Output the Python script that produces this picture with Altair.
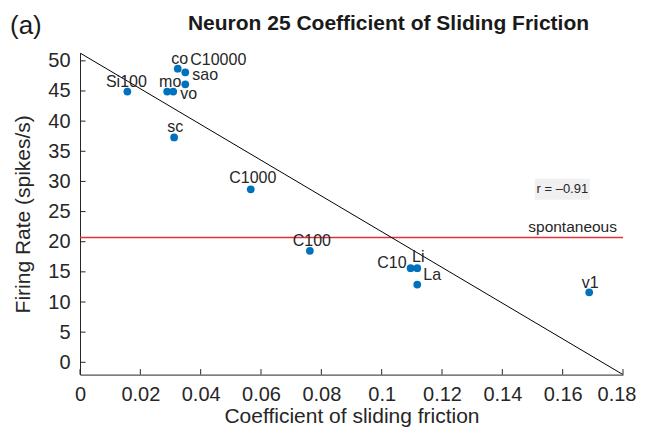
import altair as alt
import pandas as pd

# ---- data ----
names = ["co", "C10000", "sao", "mo", "vo", "Si100", "sc", "C1000", "C100", "C10", "Li", "La", "v1"]
friction = [0.0324, 0.0349, 0.0349, 0.0289, 0.0309, 0.0157, 0.0312, 0.0566, 0.0762, 0.1096, 0.1118, 0.1118, 0.1688]
rate = [48.7, 48.1, 46.1, 44.9, 44.9, 44.9, 37.3, 28.7, 18.5, 15.6, 15.6, 12.9, 11.6]

fit_x = [0.0, 0.18]
fit_y = [51.3, -2.04]

spontaneous_rate = 20.7
r_label = "r = \u20130.91"
r_pos = (0.1599, 28.7)
spont_pos_x = 0.178

x_ticks = [0, 0.02, 0.04, 0.06, 0.08, 0.1, 0.12, 0.14, 0.16, 0.18]
y_ticks = [0, 5, 10, 15, 20, 25, 30, 35, 40, 45, 50]

title_text = "Neuron 25 Coefficient of Sliding Friction"
panel_text = "(a)"

# label placement (style): alignment and pixel offsets relative to each dot
label_align = ["center", "left", "left", "center", "left", "center", "center", "center", "center", "right", "center", "left", "center"]
label_dx = [2, 5, 7, 3, 7, -1, 1, 2, 2, -4, 1, 6, 1]
label_dy = [-10, -12, -9.5, -10, 2, -10, -10, -11, -10, -5, -11, -10, -9]

FONT = "Liberation Sans"
INK = "#262626"
W, H = 543, 321.6

pts = pd.DataFrame({"name": names, "friction": friction, "rate": rate})

xs = alt.Scale(domain=[0, 0.18], nice=False, zero=False)
ys = alt.Scale(domain=[-2.04, 51.3], nice=False, zero=False)

x_axis = alt.Axis(title="Coefficient of sliding friction", values=x_ticks, format="~g",
                  labelFlush=False, labelOverlap=False, ticks=False, grid=False,
                  labelPadding=10, titlePadding=1,
                  labelAlign=alt.condition("datum.value >= 0.179", alt.value("right"), alt.value("center")),
                  labelOffset=alt.condition("datum.value >= 0.179", alt.value(13), alt.value(0)))
y_axis = alt.Axis(title="Firing Rate (spikes/s)", values=y_ticks, format="~g",
                  labelFlush=False, labelOverlap=False, ticks=False, grid=False,
                  labelPadding=10, titlePadding=14)


def X(field="friction"):
    return alt.X(f"{field}:Q", scale=xs, axis=x_axis)


def Y(field="rate"):
    return alt.Y(f"{field}:Q", scale=ys, axis=y_axis)


points = alt.Chart(pts).mark_circle(size=60, color="#0072BD", opacity=1).encode(x=X(), y=Y())

label_layers = []
for n, al, dx, dy in zip(names, label_align, label_dx, label_dy):
    label_layers.append(
        alt.Chart(pts).transform_filter(alt.datum.name == n).mark_text(
            align=al, baseline="middle", dx=dx, dy=dy, font=FONT, fontSize=16, color=INK
        ).encode(x=X(), y=Y(), text="name:N")
    )

fit = alt.Chart(pd.DataFrame({"friction": fit_x, "rate": fit_y})).mark_line(
    color="black", strokeWidth=1, clip=True
).encode(x=X(), y=Y())

spont = alt.Chart(pd.DataFrame({"rate": [spontaneous_rate]})).mark_rule(
    color="#e3303a", strokeWidth=1.3
).encode(y=Y())

spont_text = alt.Chart(pd.DataFrame({"friction": [spont_pos_x], "rate": [spontaneous_rate],
                                     "t": ["spontaneous"]})).mark_text(
    align="right", baseline="alphabetic", dy=-5, font=FONT, fontSize=15.5, color=INK
).encode(x=X(), y=Y(), text="t:N")

r_df = pd.DataFrame({"friction": [r_pos[0]], "rate": [r_pos[1]], "t": [r_label]})
r_box = alt.Chart(r_df).mark_point(
    shape="M-1,-0.382H1V0.382H-1Z", size=3025, filled=True, fill="#f0f0f0", opacity=1, strokeWidth=0
).encode(x=X(), y=Y())
r_text = alt.Chart(r_df).mark_text(
    align="center", baseline="middle", font=FONT, fontSize=13, color=INK
).encode(x=X(), y=Y(), text="t:N")

# inward tick marks
xt = alt.Chart(pd.DataFrame({"friction": x_ticks})).mark_rule(color=INK, strokeWidth=1).encode(
    x=X(), y=alt.value(H), y2=alt.value(H - 5.5))
yt = alt.Chart(pd.DataFrame({"rate": y_ticks})).mark_rule(color=INK, strokeWidth=1).encode(
    y=Y(), x=alt.value(0), x2=alt.value(5.5))

panel_tag = alt.Chart(pd.DataFrame({"t": [panel_text]})).mark_text(
    align="left", baseline="middle", font=FONT, fontSize=26, color="#1a1a1a"
).encode(x=alt.value(-70), y=alt.value(-27), text="t:N")

title_mark = alt.Chart(pd.DataFrame({"t": [title_text]})).mark_text(
    align="center", baseline="alphabetic", font=FONT, fontSize=21, fontWeight="bold", color="#1a1a1a"
).encode(x=alt.value(W / 2 + 37), y=alt.value(-23), text="t:N")

chart = alt.layer(
    spont, fit, r_box, r_text, spont_text, xt, yt, points, *label_layers, panel_tag, title_mark
).properties(
    width=W, height=H,
    autosize=alt.AutoSizeParams(type="none"),
    padding={"left": 72, "top": 45, "right": 14, "bottom": 55},
).configure_view(stroke=None).configure_axis(
    domainColor=INK, domainWidth=1, labelFont=FONT, labelFontSize=20, labelColor=INK,
    titleFont=FONT, titleFontSize=21, titleFontWeight="normal", titleColor=INK,
)

chart.save("out.html", embed_options={"renderer": "svg", "actions": False})
